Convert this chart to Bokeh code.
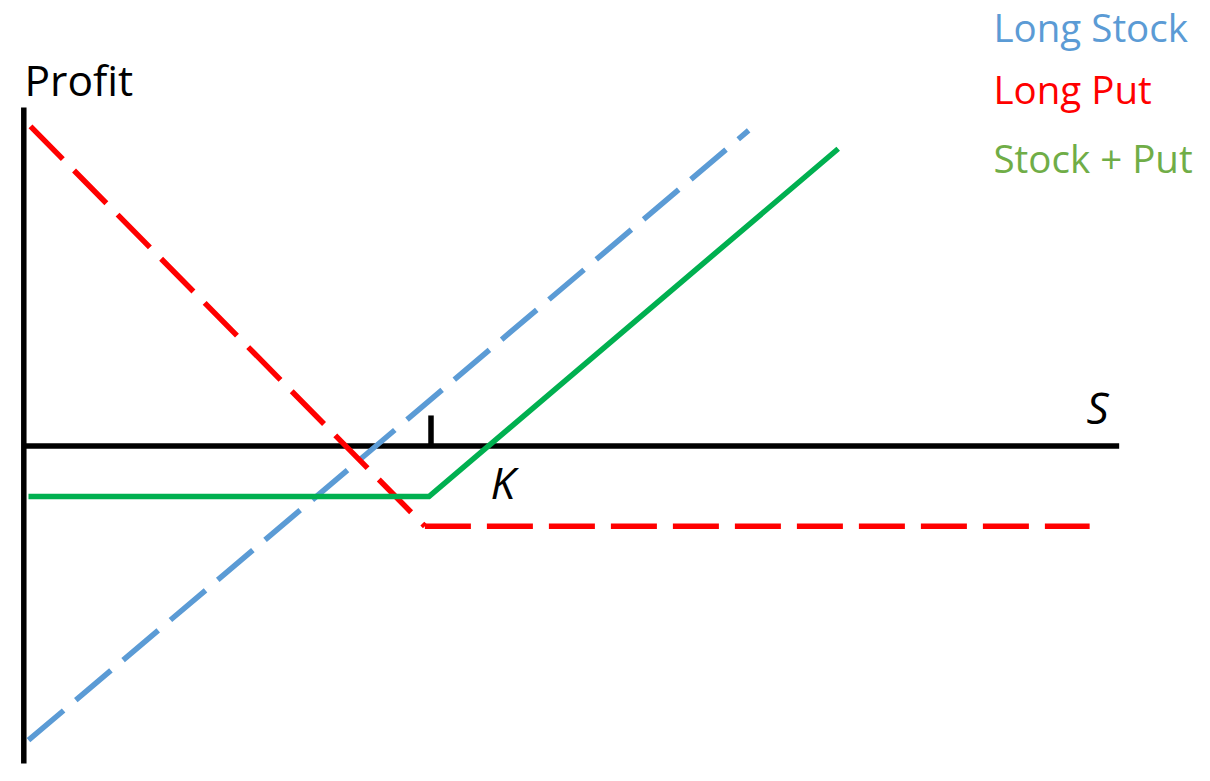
from bokeh.plotting import figure
from bokeh.models import Range1d
from bokeh.core.properties import value
from bokeh.embed import file_html
from bokeh.resources import INLINE

# ---- data (S = underlying price, P = profit) ----
K = 40.0
axis_s = [0.0, 107.6]          # horizontal axis extent
axis_p = [33.25, -31.19]       # vertical axis extent
tick_p = [0.0, 3.0]            # strike tick

stock_s = [0.46, 71.2]
stock_p = [-28.9, 31.0]

put_s = [0.66, 39.4, 104.7]
put_p = [31.4, -7.88, -7.88]

combo_s = [0.46, 39.8, 80.0]
combo_p = [-4.96, -4.96, 29.2]

legend_labels = ["Long Stock", "Long Put", "Stock + Put"]
legend_colors = ["#5B9BD5", "#FF0000", "#70AD47"]

# ---- page-pixel helpers (for label placement only) ----
X0, Y0, SC = 23.3, 445.5, 10.18
def dx(px):
    return (px - X0) / SC
def dy(py):
    return (Y0 - py) / SC

# empirical baseline correction for the svg text rendering (fraction of em)
BC = 0.42

W, H = 1194, 765
p = figure(width=W, height=H,
           x_range=Range1d(dx(0), dx(W)),
           y_range=Range1d(dy(H), dy(0)),
           x_axis_type=None, y_axis_type=None,
           toolbar_location=None, output_backend="svg",
           min_border=0)
p.outline_line_color = None
p.grid.visible = False
p.background_fill_color = "white"
p.border_fill_color = "white"

LW = 5.5
# axes
p.line([0, 0], axis_p, line_color="black", line_width=LW, line_cap="butt")
p.line(axis_s, [0, 0], line_color="black", line_width=LW, line_cap="butt")
p.line([K, K], tick_p, line_color="black", line_width=LW, line_cap="butt")

# long stock (dashed blue)
p.line(stock_s, stock_p, line_color="#5B9BD5", line_width=LW,
       line_dash="46 16", line_cap="butt")

# long put (dashed red) - two separate segments
p.line(put_s[:2], put_p[:2], line_color="#FF0000", line_width=LW,
       line_dash="46 16", line_cap="butt")
p.line(put_s[1:], put_p[1:], line_color="#FF0000", line_width=LW,
       line_dash="46 16", line_cap="butt")

# stock + put (solid green)
p.line(combo_s, combo_p, line_color="#00B050", line_width=LW,
       line_join="miter", line_cap="butt")

FONT = value("Open Sans")
fs_profit, fs_ks, fs_leg = 42.5, 44, 38.5
p.text(x=[dx(24)], y=[dy(97 - BC * fs_profit)], text=["Profit"], text_font=FONT,
       text_font_size=f"{fs_profit}px", text_color="black",
       text_baseline="alphabetic", text_align="left")
p.text(x=[dx(490), dx(1086)],
       y=[dy(500 - BC * fs_ks), dy(425 - BC * fs_ks)], text=["K", "S"],
       text_font=FONT, text_font_size=f"{fs_ks}px", text_font_style="italic",
       text_color="black", text_baseline="alphabetic", text_align="left")
p.text(x=[dx(993)] * 3,
       y=[dy(b - BC * fs_leg) for b in (43, 105, 174)], text=legend_labels,
       text_font=FONT, text_font_size=f"{fs_leg}px", text_color=legend_colors,
       text_baseline="alphabetic", text_align="left")

open("out.html", "w").write(file_html(p, INLINE))
